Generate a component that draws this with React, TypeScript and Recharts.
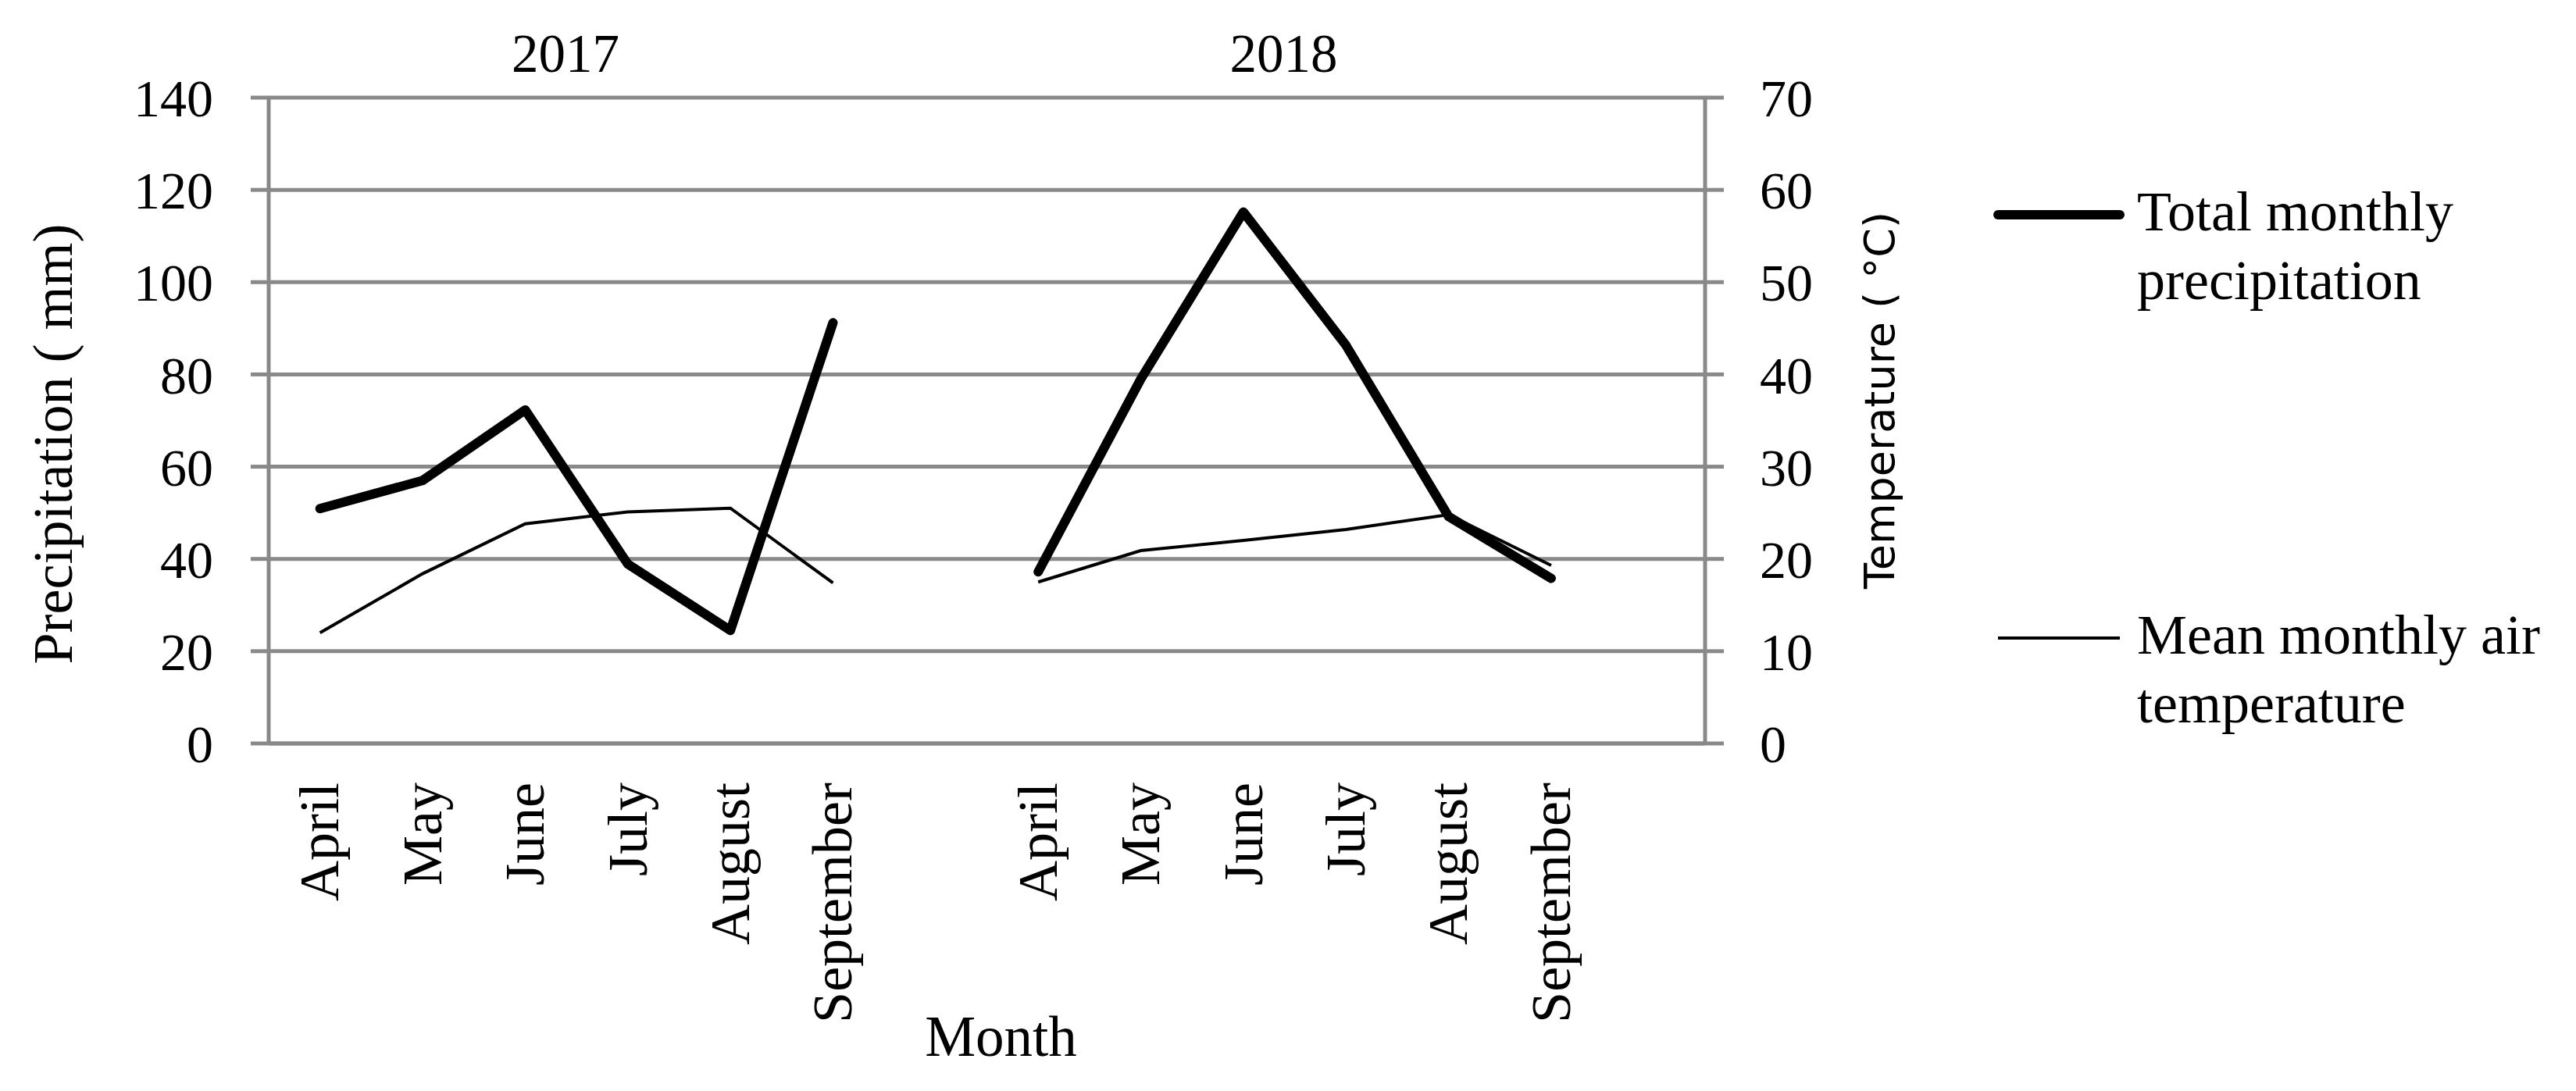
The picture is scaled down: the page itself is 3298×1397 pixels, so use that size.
import React from "react";
import { ComposedChart, Line, XAxis, YAxis, CartesianGrid, Legend, Label } from "recharts";

// values
const months = ["April", "May", "June", "July", "August", "September"];
const years = ["2017", "2018"];
const precip2017 = [50.9, 57.0, 72.3, 38.9, 24.5, 91.2];
const precip2018 = [37.2, 79.0, 115.2, 86.3, 49.2, 35.8];
const temp2017 = [12.0, 18.4, 23.8, 25.1, 25.5, 17.4];
const temp2018 = [17.5, 20.9, 22.0, 23.2, 24.8, 19.3];
const precipTicks = [0, 20, 40, 60, 80, 100, 120, 140];
const tempTicks = [0, 10, 20, 30, 40, 50, 60, 70];
const seriesNames = ["Total monthly precipitation", "Mean monthly air temperature"];
const legendRows = [
  ["Total monthly", "precipitation"],
  ["Mean monthly air", "temperature"],
];

type Row = { month: string; year: string; precip: number | null; temp: number | null };

const gap: Row = { month: "", year: "", precip: null, temp: null };
const data: Row[] = [
  ...months.map((m, i) => ({ month: m, year: years[0], precip: precip2017[i], temp: temp2017[i] })),
  gap,
  ...months.map((m, i) => ({ month: m, year: years[1], precip: precip2018[i], temp: temp2018[i] })),
  { ...gap },
];

const W = 3298;
const H = 1397;
const plotLeft = 344;
const plotRight = 2183;
const plotTop = 125;
const plotBottom = 952;
const slot = (plotRight - plotLeft) / data.length;
const grey = "#898989";
const serif = "'Liberation Serif', 'Times New Roman', serif";

const MonthTick = ({ x, y, payload }: any) => (
  <text
    transform={`translate(${x},${y}) rotate(-90)`}
    textAnchor="end"
    dy="0.33em"
    fontSize={72}
    fontFamily={serif}
    fill="#000"
  >
    {payload.value}
  </text>
);

const YearTick = ({ x, y, index }: any) => {
  const row = data[index];
  if (!row || row.month !== "July") return null;
  return (
    <text x={x - slot / 2 - 14} y={y} textAnchor="middle" fontSize={69} fontFamily={serif} fill="#000">
      {row.year}
    </text>
  );
};

const LegendBox = () => (
  <svg width={760} height={740} style={{ display: "block" }}>
    {legendRows.map((lines, i) => {
      const top = i === 0 ? 45 : 587;
      return (
        <g key={seriesNames[i]}>
          <line
            x1={18}
            x2={174}
            y1={top}
            y2={top}
            stroke="#000"
            strokeWidth={i === 0 ? 12 : 4}
            strokeLinecap={i === 0 ? "round" : "butt"}
          />
          {lines.map((t, j) => (
            <text key={t} x={196} y={top + 20 + j * 88} fontSize={72} fontFamily={serif} fill="#000">
              {t}
            </text>
          ))}
        </g>
      );
    })}
  </svg>
);

export default function App() {
  return (
    <div style={{ position: "absolute", left: 0, top: 0, width: W, height: H, background: "#fff" }}>
      <ComposedChart width={W} height={H} data={data} margin={{ top: 0, right: 0, bottom: 0, left: 0 }}>
        <CartesianGrid
          xAxisId="bottom"
          yAxisId="left"
          vertical={false}
          stroke={grey}
          strokeWidth={5}
        />
        <XAxis
          xAxisId="top"
          orientation="top"
          dataKey="month"
          height={plotTop}
          interval={0}
          padding={{ left: slot / 2, right: slot / 2 }}
          axisLine={false}
          tickLine={false}
          tickSize={0}
          tickMargin={33}
          tick={<YearTick />}
        />
        <XAxis
          xAxisId="bottom"
          dataKey="month"
          height={H - plotBottom}
          interval={0}
          padding={{ left: slot / 2, right: slot / 2 }}
          axisLine={{ stroke: grey, strokeWidth: 5 }}
          tickLine={false}
          tickSize={0}
          tickMargin={50}
          tick={<MonthTick />}
        >
          <Label
            content={(p: any) => {
              const vb = p.viewBox;
              return (
                <text x={vb.x + vb.width / 2 + 18} y={vb.y + 400} textAnchor="middle" fontSize={73} fontFamily={serif} fill="#000">
                  Month
                </text>
              );
            }}
          />
        </XAxis>
        <YAxis
          yAxisId="left"
          width={plotLeft}
          domain={[0, 140]}
          ticks={precipTicks}
          interval={0}
          axisLine={{ stroke: grey, strokeWidth: 5 }}
          tickLine={{ stroke: grey, strokeWidth: 5 }}
          tickSize={23}
          tickMargin={48}
          tick={{ fill: "#000", fontSize: 68, fontFamily: serif }}
        >
          <Label
            content={(p: any) => {
              const vb = p.viewBox;
              const cx = vb.x + 76;
              const cy = vb.y + vb.height / 2 + 30;
              return (
                <text transform={`translate(${cx},${cy}) rotate(-90)`} textAnchor="middle" dy="0.22em" fontSize={72} fontFamily={serif} fill="#000">
                  Precipitation ( mm)
                </text>
              );
            }}
          />
        </YAxis>
        <YAxis
          yAxisId="right"
          orientation="right"
          width={W - plotRight}
          domain={[0, 70]}
          ticks={tempTicks}
          interval={0}
          axisLine={{ stroke: grey, strokeWidth: 5 }}
          tickLine={{ stroke: grey, strokeWidth: 5 }}
          tickSize={24}
          tickMargin={46}
          tick={{ fill: "#000", fontSize: 68, fontFamily: serif }}
        >
          <Label
            content={(p: any) => {
              const vb = p.viewBox;
              const cx = vb.x + 228;
              const cy = vb.y + vb.height / 2 - 26;
              return (
                <text transform={`translate(${cx},${cy}) rotate(-90)`} textAnchor="middle" dy="0.25em" fontSize={54} fontFamily="'DejaVu Sans', sans-serif" fill="#000">
                  Temperature ( °C)
                </text>
              );
            }}
          />
        </YAxis>
        <Legend
          layout="vertical"
          align="center"
          verticalAlign="middle"
          wrapperStyle={{ left: 2540, top: 230, width: 760, height: 740 }}
          content={() => <LegendBox />}
        />
        <Line
          xAxisId="bottom"
          yAxisId="left"
          dataKey="precip"
          name={seriesNames[0]}
          stroke="#000"
          strokeWidth={12}
          strokeLinecap="round"
          strokeLinejoin="round"
          dot={false}
          activeDot={false}
          isAnimationActive={false}
        />
        <Line
          xAxisId="bottom"
          yAxisId="right"
          dataKey="temp"
          name={seriesNames[1]}
          stroke="#000"
          strokeWidth={4}
          dot={false}
          activeDot={false}
          isAnimationActive={false}
        />
      </ComposedChart>
    </div>
  );
}
